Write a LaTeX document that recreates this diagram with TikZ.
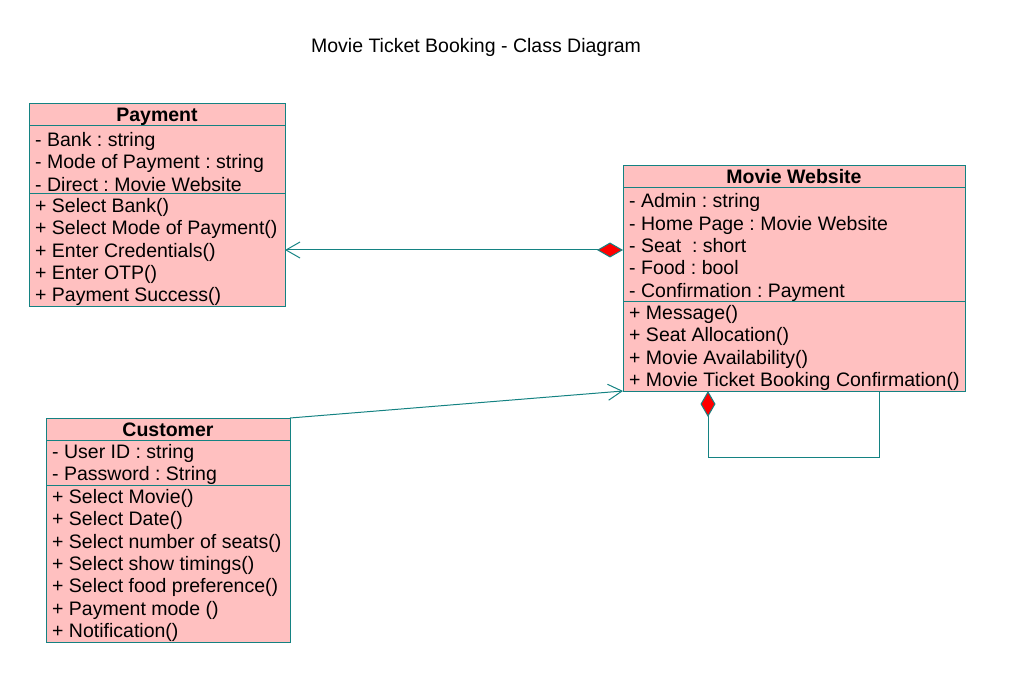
\documentclass[tikz,border=0pt]{standalone}
\usepackage{fontspec}
\setmainfont{Liberation Sans}
\usetikzlibrary{arrows.meta}
\definecolor{umlborder}{RGB}{20,130,130}
\definecolor{umlfill}{RGB}{255,192,192}
\tikzset{
  openhead/.tip={Straight Barb[length=14pt,width=16pt,line width=1pt]},
  comp/.tip={Diamond[fill=red,length=26pt,width=15pt,line width=1pt]},
}
\frenchspacing
\begin{document}
\frenchspacing
\begin{tikzpicture}[x=1pt,y=-1pt,
  box/.style={draw=umlborder, fill=umlfill, line width=1pt, rectangle,
    inner sep=0pt, outer sep=0pt, anchor=north west},
  head/.style={box, align=center, text height=14pt, text depth=0pt,
    font=\bfseries\fontsize{19.5}{22.4}\selectfont},
  txt/.style={anchor=west, align=left, inner xsep=6pt, inner ysep=0pt, yshift=-2pt,
    font=\frenchspacing\fontsize{19.5}{22.4}\selectfont},
  conn/.style={draw=umlborder, line width=1pt},
  ]
\useasboundingbox (0,0) rectangle (1023,687);

\node[font=\fontsize{19.5}{22.4}\selectfont] (title) at (476,47) {Movie Ticket Booking - Class Diagram};

% Payment
\node[head, minimum width=256pt, minimum height=22pt] (payh) at (29,104) {Payment};
\node[box, minimum width=256pt, minimum height=68pt] (paya) at (payh.south west) {};
\node[txt] (payat) at (paya.west)
  {- Bank : string\\- Mode of Payment : string\\- Direct : Movie Website};
\node[box, minimum width=256pt, minimum height=112pt] (paym) at (paya.south west) {};
\node[txt] (paymt) at (paym.west)
  {+ Select Bank()\\+ Select Mode of Payment()\\+ Enter Credentials()\\+ Enter OTP()\\+ Payment Success()};

% Movie Website
\node[head, minimum width=342pt, minimum height=22pt] (mwh) at (623,166) {Movie Website};
\node[box, minimum width=342pt, minimum height=113pt] (mwa) at (mwh.south west) {};
\node[txt] (mwat) at ([yshift=-1pt]mwa.west)
  {- Admin : string\\- Home Page : Movie Website\\- Seat~ : short\\- Food : bool\\- Confirmation : Payment};
\node[box, minimum width=342pt, minimum height=90pt] (mwm) at (mwa.south west) {};
\node[txt] (mwmt) at (mwm.west)
  {+ Message()\\+ Seat Allocation()\\+ Movie Availability()\\+ Movie Ticket Booking Confirmation()};

% Customer
\node[head, minimum width=244pt, minimum height=22pt] (cush) at (46,418) {Customer};
\node[box, minimum width=244pt, minimum height=45pt] (cusa) at (cush.south west) {};
\node[txt] (cusat) at (cusa.west)
  {- User ID : string\\- Password : String};
\node[box, minimum width=244pt, minimum height=157pt] (cusm) at (cusa.south west) {};
\node[txt] (cusmt) at (cusm.west)
  {+ Select Movie()\\+ Select Date()\\+ Select number of seats()\\+ Select show timings()\\+ Select food preference()\\+ Payment mode ()\\+ Notification()};

% connectors
\draw[conn, {openhead}-{comp}] (paym.east) -- (mwa.west |- paym.east);
\draw[conn, -{openhead}] (cush.north east) -- (mwm.south west);
\coordinate (s1) at ([xshift=85pt]mwm.south west);
\coordinate (s2) at ([xshift=256pt]mwm.south west);
\draw[conn, {comp}-] (s1) -- ++(0,66) -| (s2);
\end{tikzpicture}
\end{document}
